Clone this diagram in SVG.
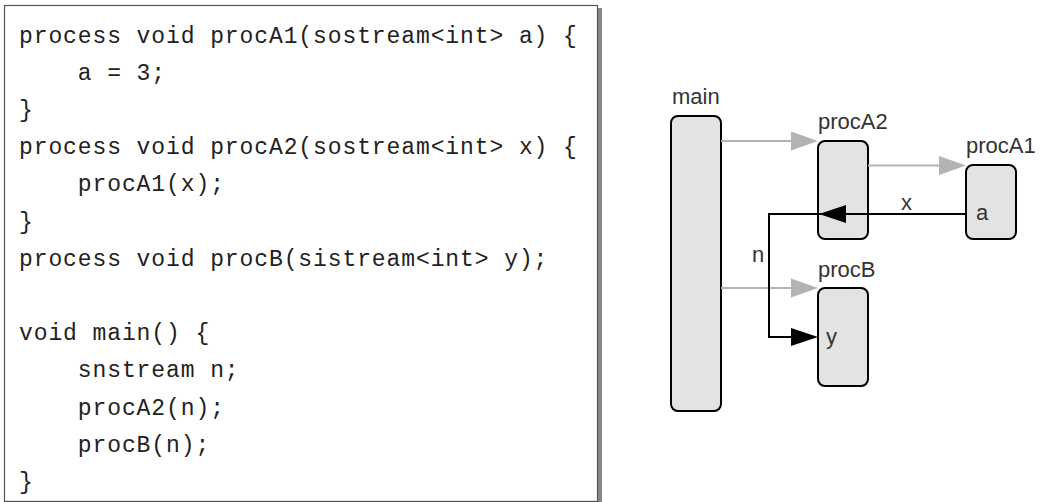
<svg xmlns="http://www.w3.org/2000/svg" width="1044" height="502" viewBox="0 0 1044 502">
<defs>
<style>
.code{font-family:"Liberation Mono","DejaVu Sans Mono",monospace;font-size:23px;letter-spacing:0.9px;fill:#222;}
.lbl{font-family:"Liberation Sans",Arial,sans-serif;font-size:22px;fill:#333;}
.box{fill:#e3e3e3;stroke:#000;stroke-width:2;}
.call{stroke:#b3b3b3;stroke-width:2;fill:none;}
.callhead{fill:#b3b3b3;}
.strm{stroke:#000;stroke-width:2;fill:none;}
.strmhead{fill:#000;}
</style>
</defs>
<rect width="1044" height="502" fill="#fff"/>
<g id="code">
<rect x="598" y="8" width="4" height="494" fill="#888"/>
<rect x="4.5" y="5.5" width="593" height="496" fill="#fff" stroke="#555" stroke-width="1.2"/>
<line x1="5" y1="500.5" x2="597" y2="500.5" stroke="#ddd" stroke-width="1"/>
<text class="code" x="19" y="42.5" xml:space="preserve">process void procA1(sostream&lt;int&gt; a) {</text>
<text class="code" x="19" y="79.7" xml:space="preserve">    a = 3;</text>
<text class="code" x="19" y="116.9" xml:space="preserve">}</text>
<text class="code" x="19" y="154.1" xml:space="preserve">process void procA2(sostream&lt;int&gt; x) {</text>
<text class="code" x="19" y="191.3" xml:space="preserve">    procA1(x);</text>
<text class="code" x="19" y="228.5" xml:space="preserve">}</text>
<text class="code" x="19" y="265.7" xml:space="preserve">process void procB(sistream&lt;int&gt; y);</text>
<text class="code" x="19" y="340.1" xml:space="preserve">void main() {</text>
<text class="code" x="19" y="377.3" xml:space="preserve">    snstream n;</text>
<text class="code" x="19" y="414.5" xml:space="preserve">    procA2(n);</text>
<text class="code" x="19" y="451.7" xml:space="preserve">    procB(n);</text>
<text class="code" x="19" y="488.9" xml:space="preserve">}</text>
</g>
<g id="node-main">
<rect class="box" x="671" y="116" width="50" height="295" rx="7"/>
<text class="lbl" x="672" y="104">main</text>
</g>
<g id="node-procA2">
<rect class="box" x="818" y="141" width="50" height="98" rx="7"/>
<text class="lbl" x="818" y="129">procA2</text>
</g>
<g id="node-procA1">
<rect class="box" x="966" y="165" width="50" height="74" rx="7"/>
<text class="lbl" x="966" y="153">procA1</text>
<text class="lbl" x="976" y="220">a</text>
</g>
<g id="node-procB">
<rect class="box" x="818" y="288" width="50" height="98" rx="7"/>
<text class="lbl" x="818" y="277">procB</text>
<text class="lbl" x="826" y="344">y</text>
</g>
<g id="connectors">
<line class="call" x1="721" y1="141" x2="792" y2="141"/>
<polygon class="callhead" points="791,131.5 818,141 791,150.5"/>
<line class="call" x1="868" y1="165.5" x2="940" y2="165.5"/>
<polygon class="callhead" points="939,156 966,165.5 939,175"/>
<line class="call" x1="721" y1="288" x2="792" y2="288"/>
<polygon class="callhead" points="791,278.5 818,288 791,297.5"/>
<polyline class="strm" points="966,214 769,214 769,337 792,337"/>
<polygon class="strmhead" points="846,205 819,214 846,223"/>
<polygon class="strmhead" points="791,328 818,337 791,346"/>
<text class="lbl" x="901" y="210">x</text>
<text class="lbl" x="752" y="262">n</text>
</g>
</svg>
